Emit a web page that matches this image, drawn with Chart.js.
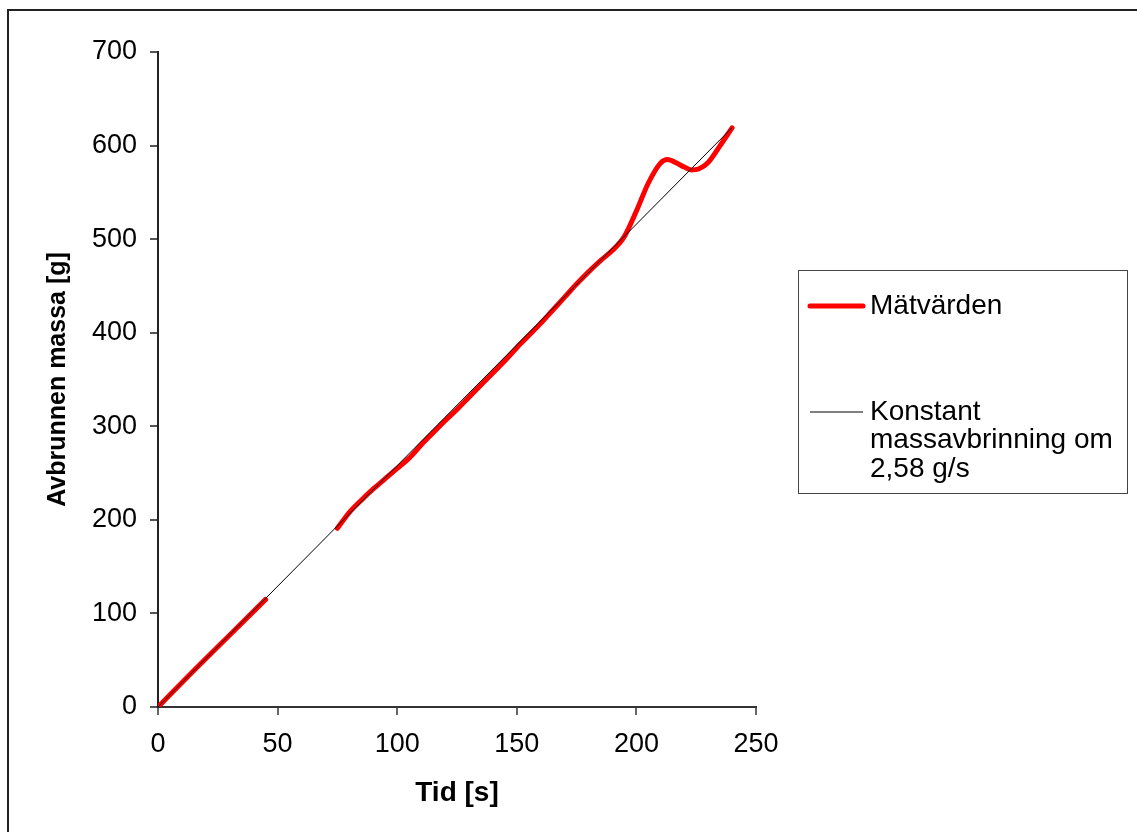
<!DOCTYPE html>
<html>
<head>
<meta charset="utf-8">
<script src="https://cdn.jsdelivr.net/npm/chart.js@4/dist/chart.umd.min.js"></script>
<style>
  html, body { margin: 0; padding: 0; background: #fff; }
  #wrap { width: 1137px; height: 832px; }
</style>
</head>
<body>
<div id="wrap"><canvas id="massChart" width="1137" height="832"></canvas></div>
<script>
// Mätvärden: tid [s] och avbrunnen massa [g]; null ger glappet mellan 45 och 75 s
var matTid   = [0, 15, 30, 45, 60, 75, 80, 85, 90, 95, 100, 105, 110, 115, 120, 125, 130, 135, 140, 145, 150, 155, 160, 165, 170, 175, 180, 185, 190, 195, 200, 205, 210, 213, 217, 220, 223, 226, 230, 235, 240];
var matMassa = [0, 39, 77, 115, null, 191, 208, 221, 233, 244, 255, 266, 280, 293, 306, 318, 331, 344, 357, 370, 384, 397, 410, 424, 438, 452, 465, 477, 488, 503, 530, 560, 581, 585, 581, 577, 574, 575, 582, 600, 619];

// Konstant massavbrinning om 2,58 g/s
var konstTid   = [0, 240];
var konstMassa = [0, 619.2];

var xTicks = [0, 50, 100, 150, 200, 250];
var yTicks = [0, 100, 200, 300, 400, 500, 600, 700];

var legendLabels = [
  ["Mätvärden"],
  ["Konstant", "massavbrinning om", "2,58 g/s"]
];

function toPoints(xs, ys) {
  return xs.map(function (x, i) { return { x: x, y: ys[i] }; });
}

var fontFamily = "'Liberation Sans', Arial, sans-serif";

// ram runt hela diagrammet
var frame = {
  id: 'frame',
  beforeDraw: function (chart) {
    var ctx = chart.ctx;
    ctx.save();
    ctx.fillStyle = '#fff';
    ctx.fillRect(0, 0, chart.width, chart.height);
    ctx.strokeStyle = '#222';
    ctx.lineWidth = 2;
    ctx.strokeRect(8, 10, chart.width + 10, chart.height + 10);
    ctx.restore();
  }
};

// egen förklaring till höger om diagrammet
var sideLegend = {
  id: 'sideLegend',
  afterDraw: function (chart) {
    var ctx = chart.ctx;
    var box = { x: 798.5, y: 270.5, w: 329, h: 223 };
    var rows = [306, 412];
    ctx.save();
    ctx.strokeStyle = '#444';
    ctx.lineWidth = 1;
    ctx.strokeRect(box.x, box.y, box.w, box.h);
    ctx.font = '28px ' + fontFamily;
    ctx.fillStyle = '#000';
    ctx.textBaseline = 'middle';
    chart.data.datasets.forEach(function (ds, i) {
      var y = rows[i];
      ctx.strokeStyle = ds.borderColor;
      ctx.lineWidth = ds.borderWidth;
      ctx.lineCap = i === 0 ? 'round' : 'butt';
      ctx.beginPath();
      ctx.moveTo(810, y);
      ctx.lineTo(863, y);
      ctx.stroke();
      legendLabels[i].forEach(function (line, j) {
        ctx.fillText(line, 870, y + j * 28.5);
      });
    });
    ctx.restore();
  }
};

var ctx = document.getElementById('massChart').getContext('2d');
var massChart = new Chart(ctx, {
  type: 'line',
  data: {
    datasets: [{
      label: legendLabels[0].join(' '),
      data: toPoints(matTid, matMassa),
      borderColor: '#ff0000',
      borderWidth: 5,
      borderCapStyle: 'round',
      borderJoinStyle: 'round',
      cubicInterpolationMode: 'monotone',
      spanGaps: false,
      pointRadius: 0,
      fill: false,
      order: 1
    }, {
      label: legendLabels[1].join(' '),
      data: toPoints(konstTid, konstMassa),
      borderColor: '#000000',
      borderWidth: 1,
      pointRadius: 0,
      fill: false,
      order: 0
    }]
  },
  options: {
    responsive: false,
    animation: false,
    layout: { padding: { left: 0, top: 52, right: 381, bottom: 0 } },
    plugins: {
      legend: { display: false },
      tooltip: { enabled: false }
    },
    scales: {
      x: {
        type: 'linear',
        min: 0,
        max: 250,
        afterBuildTicks: function (axis) {
          axis.ticks = xTicks.map(function (v) { return { value: v }; });
        },
        afterFit: function (axis) { axis.height = 125; },
        grid: { drawOnChartArea: false, drawTicks: true, tickLength: 8, color: '#666', lineWidth: 2 },
        border: { display: true, color: '#333', width: 2 },
        ticks: { color: '#000', padding: 13, maxRotation: 0, font: { family: fontFamily, size: 27 } },
        title: {
          display: true,
          text: 'Tid [s]',
          color: '#000',
          font: { family: fontFamily, size: 28, weight: 'bold' },
          padding: { top: 0, bottom: 22 }
        }
      },
      y: {
        type: 'linear',
        min: 0,
        max: 700,
        afterBuildTicks: function (axis) {
          axis.ticks = yTicks.map(function (v) { return { value: v }; });
        },
        afterFit: function (axis) { axis.width = 158; },
        grid: { drawOnChartArea: false, drawTicks: true, tickLength: 8, color: '#555', lineWidth: 2 },
        border: { display: true, color: '#222', width: 2 },
        ticks: { color: '#000', padding: 13, font: { family: fontFamily, size: 27 } },
        title: {
          display: true,
          text: 'Avbrunnen massa [g]',
          color: '#000',
          font: { family: fontFamily, size: 25, weight: 'bold' },
          padding: { top: 43, bottom: 0 }
        }
      }
    }
  },
  plugins: [frame, sideLegend]
});
</script>
</body>
</html>
